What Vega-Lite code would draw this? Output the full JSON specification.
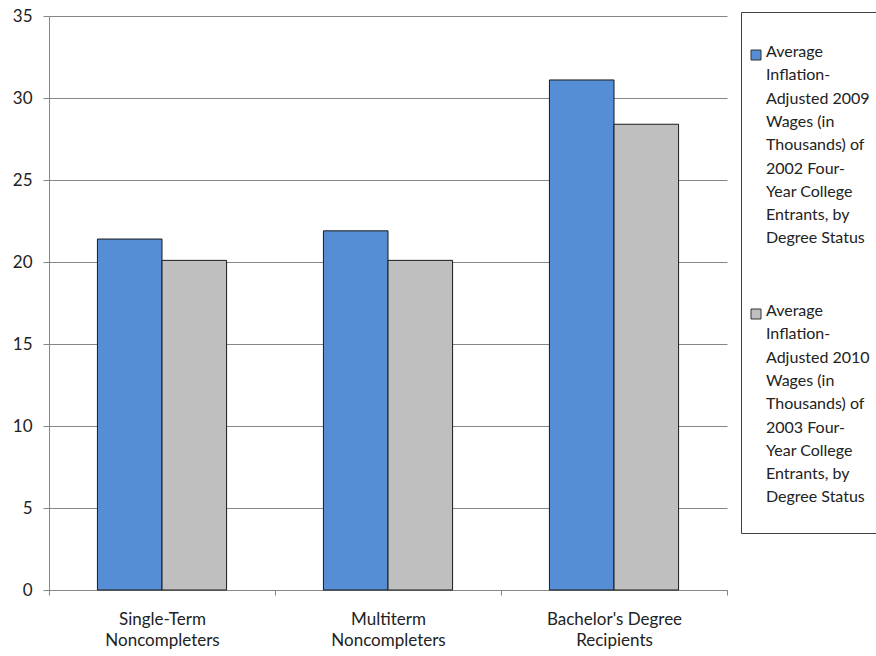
{
  "$schema": "https://vega.github.io/schema/vega-lite/v6.json",
  "autosize": {"type": "none"},
  "width": 678,
  "height": 574,
  "padding": {"left": 49, "top": 16, "right": 149, "bottom": 66},
  "background": "white",
  "data": {
    "values": [
      {"group": "Single-Term Noncompleters", "series": "Average Inflation-Adjusted 2009 Wages (in Thousands) of 2002 Four-Year College Entrants, by Degree Status", "value": 21.4},
      {"group": "Single-Term Noncompleters", "series": "Average Inflation-Adjusted 2010 Wages (in Thousands) of 2003 Four-Year College Entrants, by Degree Status", "value": 20.1},
      {"group": "Multiterm Noncompleters", "series": "Average Inflation-Adjusted 2009 Wages (in Thousands) of 2002 Four-Year College Entrants, by Degree Status", "value": 21.9},
      {"group": "Multiterm Noncompleters", "series": "Average Inflation-Adjusted 2010 Wages (in Thousands) of 2003 Four-Year College Entrants, by Degree Status", "value": 20.1},
      {"group": "Bachelor's Degree Recipients", "series": "Average Inflation-Adjusted 2009 Wages (in Thousands) of 2002 Four-Year College Entrants, by Degree Status", "value": 31.1},
      {"group": "Bachelor's Degree Recipients", "series": "Average Inflation-Adjusted 2010 Wages (in Thousands) of 2003 Four-Year College Entrants, by Degree Status", "value": 28.4}
    ]
  },
  "mark": {"type": "bar", "stroke": "#1a1a1a", "strokeWidth": 1},
  "encoding": {
    "x": {
      "field": "group",
      "type": "nominal",
      "sort": null,
      "scale": {"paddingInner": 0, "paddingOuter": 0},
      "axis": {
        "title": null,
        "grid": false,
        "labelAngle": 0,
        "labelFont": "Lato",
        "labelFontSize": 17,
        "labelColor": "#222",
        "labelLineHeight": 21,
        "labelPadding": 16,
        "labelBaseline": "top",
        "tickBand": "extent",
        "tickSize": 5,
        "tickColor": "#868686",
        "domainColor": "#868686",
        "labelExpr": "[slice(datum.label, 0, lastindexof(datum.label, ' ')), slice(datum.label, lastindexof(datum.label, ' ') + 1)]"
      }
    },
    "xOffset": {
      "field": "series",
      "type": "nominal",
      "scale": {"paddingInner": 0, "paddingOuter": 0.75}
    },
    "y": {
      "field": "value",
      "type": "quantitative",
      "scale": {"domain": [0, 35]},
      "axis": {
        "title": null,
        "grid": true,
        "values": [0, 5, 10, 15, 20, 25, 30, 35],
        "labelFont": "Lato",
        "labelFontSize": 17,
        "labelColor": "#222",
        "labelPadding": 11,
        "tickSize": 6,
        "tickColor": "#868686",
        "domainColor": "#868686",
        "gridColor": "#868686",
        "gridOpacity": 1
      }
    },
    "color": {
      "field": "series",
      "type": "nominal",
      "scale": {"range": ["#558ED5", "#BFBFBF"]},
      "legend": {
        "title": " ",
        "titleFontSize": 2,
        "titlePadding": 6,
        "orient": "none",
        "legendX": 692,
        "legendY": -4,
        "padding": 27,
        "symbolOffset": -20,
        "strokeColor": "#404040",
        "fillColor": "white",
        "symbolType": "square",
        "symbolSize": 100,
        "symbolStrokeColor": "#333",
        "symbolStrokeWidth": 1,
        "labelFont": "Lato",
        "labelFontSize": 16,
        "labelColor": "#222",
        "labelLimit": 300,
        "labelOffset": 2,
        "labelBaseline": "top",
        "rowPadding": 56,
        "labelExpr": "indexof(datum.label, '2009') >= 0 ? ['Average', 'Inflation-', 'Adjusted 2009', 'Wages (in', 'Thousands) of', '2002 Four-', 'Year College', 'Entrants, by', 'Degree Status'] : ['Average', 'Inflation-', 'Adjusted 2010', 'Wages (in', 'Thousands) of', '2003 Four-', 'Year College', 'Entrants, by', 'Degree Status']",
        "encode": {
          "labels": {"update": {"lineHeight": {"value": 23.3}, "dy": {"value": -11}}}
        }
      }
    }
  },
  "config": {
    "view": {"stroke": null}
  }
}
